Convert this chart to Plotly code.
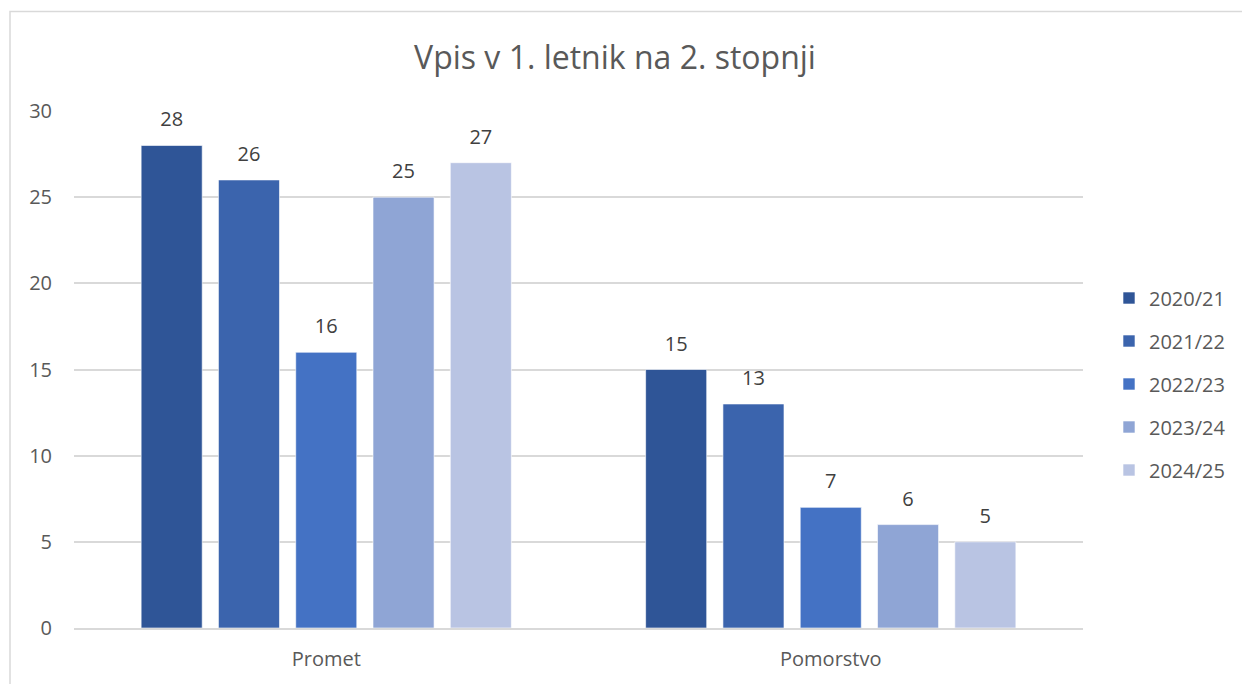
import plotly.graph_objects as go

categories = ["Promet", "Pomorstvo"]
series_names = ["2020/21", "2021/22", "2022/23", "2023/24", "2024/25"]
values_2020 = [28, 15]
values_2021 = [26, 13]
values_2022 = [16, 7]
values_2023 = [25, 6]
values_2024 = [27, 5]
all_values = [values_2020, values_2021, values_2022, values_2023, values_2024]
colors = ["#2F5597", "#3B64AD", "#4472C4", "#8FA5D5", "#B9C4E3"]
y_ticks = [0, 5, 10, 15, 20, 25, 30]

FONT = "Open Sans"
W, H = 1242, 684
L, R, T, B = 74, W - 1083, 111, H - 630

fig = go.Figure()
for i, (name, vals) in enumerate(zip(series_names, all_values)):
    fig.add_trace(go.Bar(
        x=categories, y=vals, name=name,
        marker=dict(color=colors[i], line=dict(color="rgba(255,255,255,0.6)", width=1)),
        text=["<span style='font-size:20px'>%d</span><br> " % v for v in vals],
        textposition="outside",
        textfont=dict(family=FONT, size=10, color="#404040"),
        cliponaxis=False,
        legendgroup=name,
    ))

fig.update_layout(
    width=W, height=H,
    margin=dict(l=L, r=R, t=T, b=B),
    paper_bgcolor="white", plot_bgcolor="white",
    barmode="group", bargap=0.234, bargroupgap=0.21,
    title=dict(text="Vpis v 1. letnik na 2. stopnji", x=615 / W, xanchor="center",
               y=1 - 58 / H, yanchor="middle",
               font=dict(family=FONT, size=32, color="#595959")),
    xaxis=dict(showgrid=False, showline=True, linecolor="#D9D9D9", linewidth=1.5,
               ticks="outside", ticklen=12, tickcolor="rgba(0,0,0,0)",
               tickfont=dict(family=FONT, size=20, color="#595959")),
    yaxis=dict(range=[0, 30], tickvals=y_ticks, showgrid=True, gridcolor="#D9D9D9",
               gridwidth=1.5, zeroline=False, ticks="outside", ticklen=17,
               tickcolor="rgba(0,0,0,0)",
               tickfont=dict(family=FONT, size=20, color="#595959")),
    legend=dict(x=1109 / W, xref="container", y=1 - 384 / H, yref="container",
                yanchor="middle", xanchor="left", tracegroupgap=14,
                font=dict(family=FONT, size=20, color="#595959")),
    shapes=[dict(type="rect", xref="paper", yref="paper",
                 x0=(10 - L) / (W - L - R), x1=(W + 5 - L) / (W - L - R),
                 y0=-(H + 5 - (H - B)) / (H - T - B), y1=1 + (T - 11) / (H - T - B),
                 line=dict(color="#D9D9D9", width=1.5), layer="below")],
)

fig.write_html("out.html", config={"displayModeBar": False},
               post_script="document.body.style.margin='0';")
